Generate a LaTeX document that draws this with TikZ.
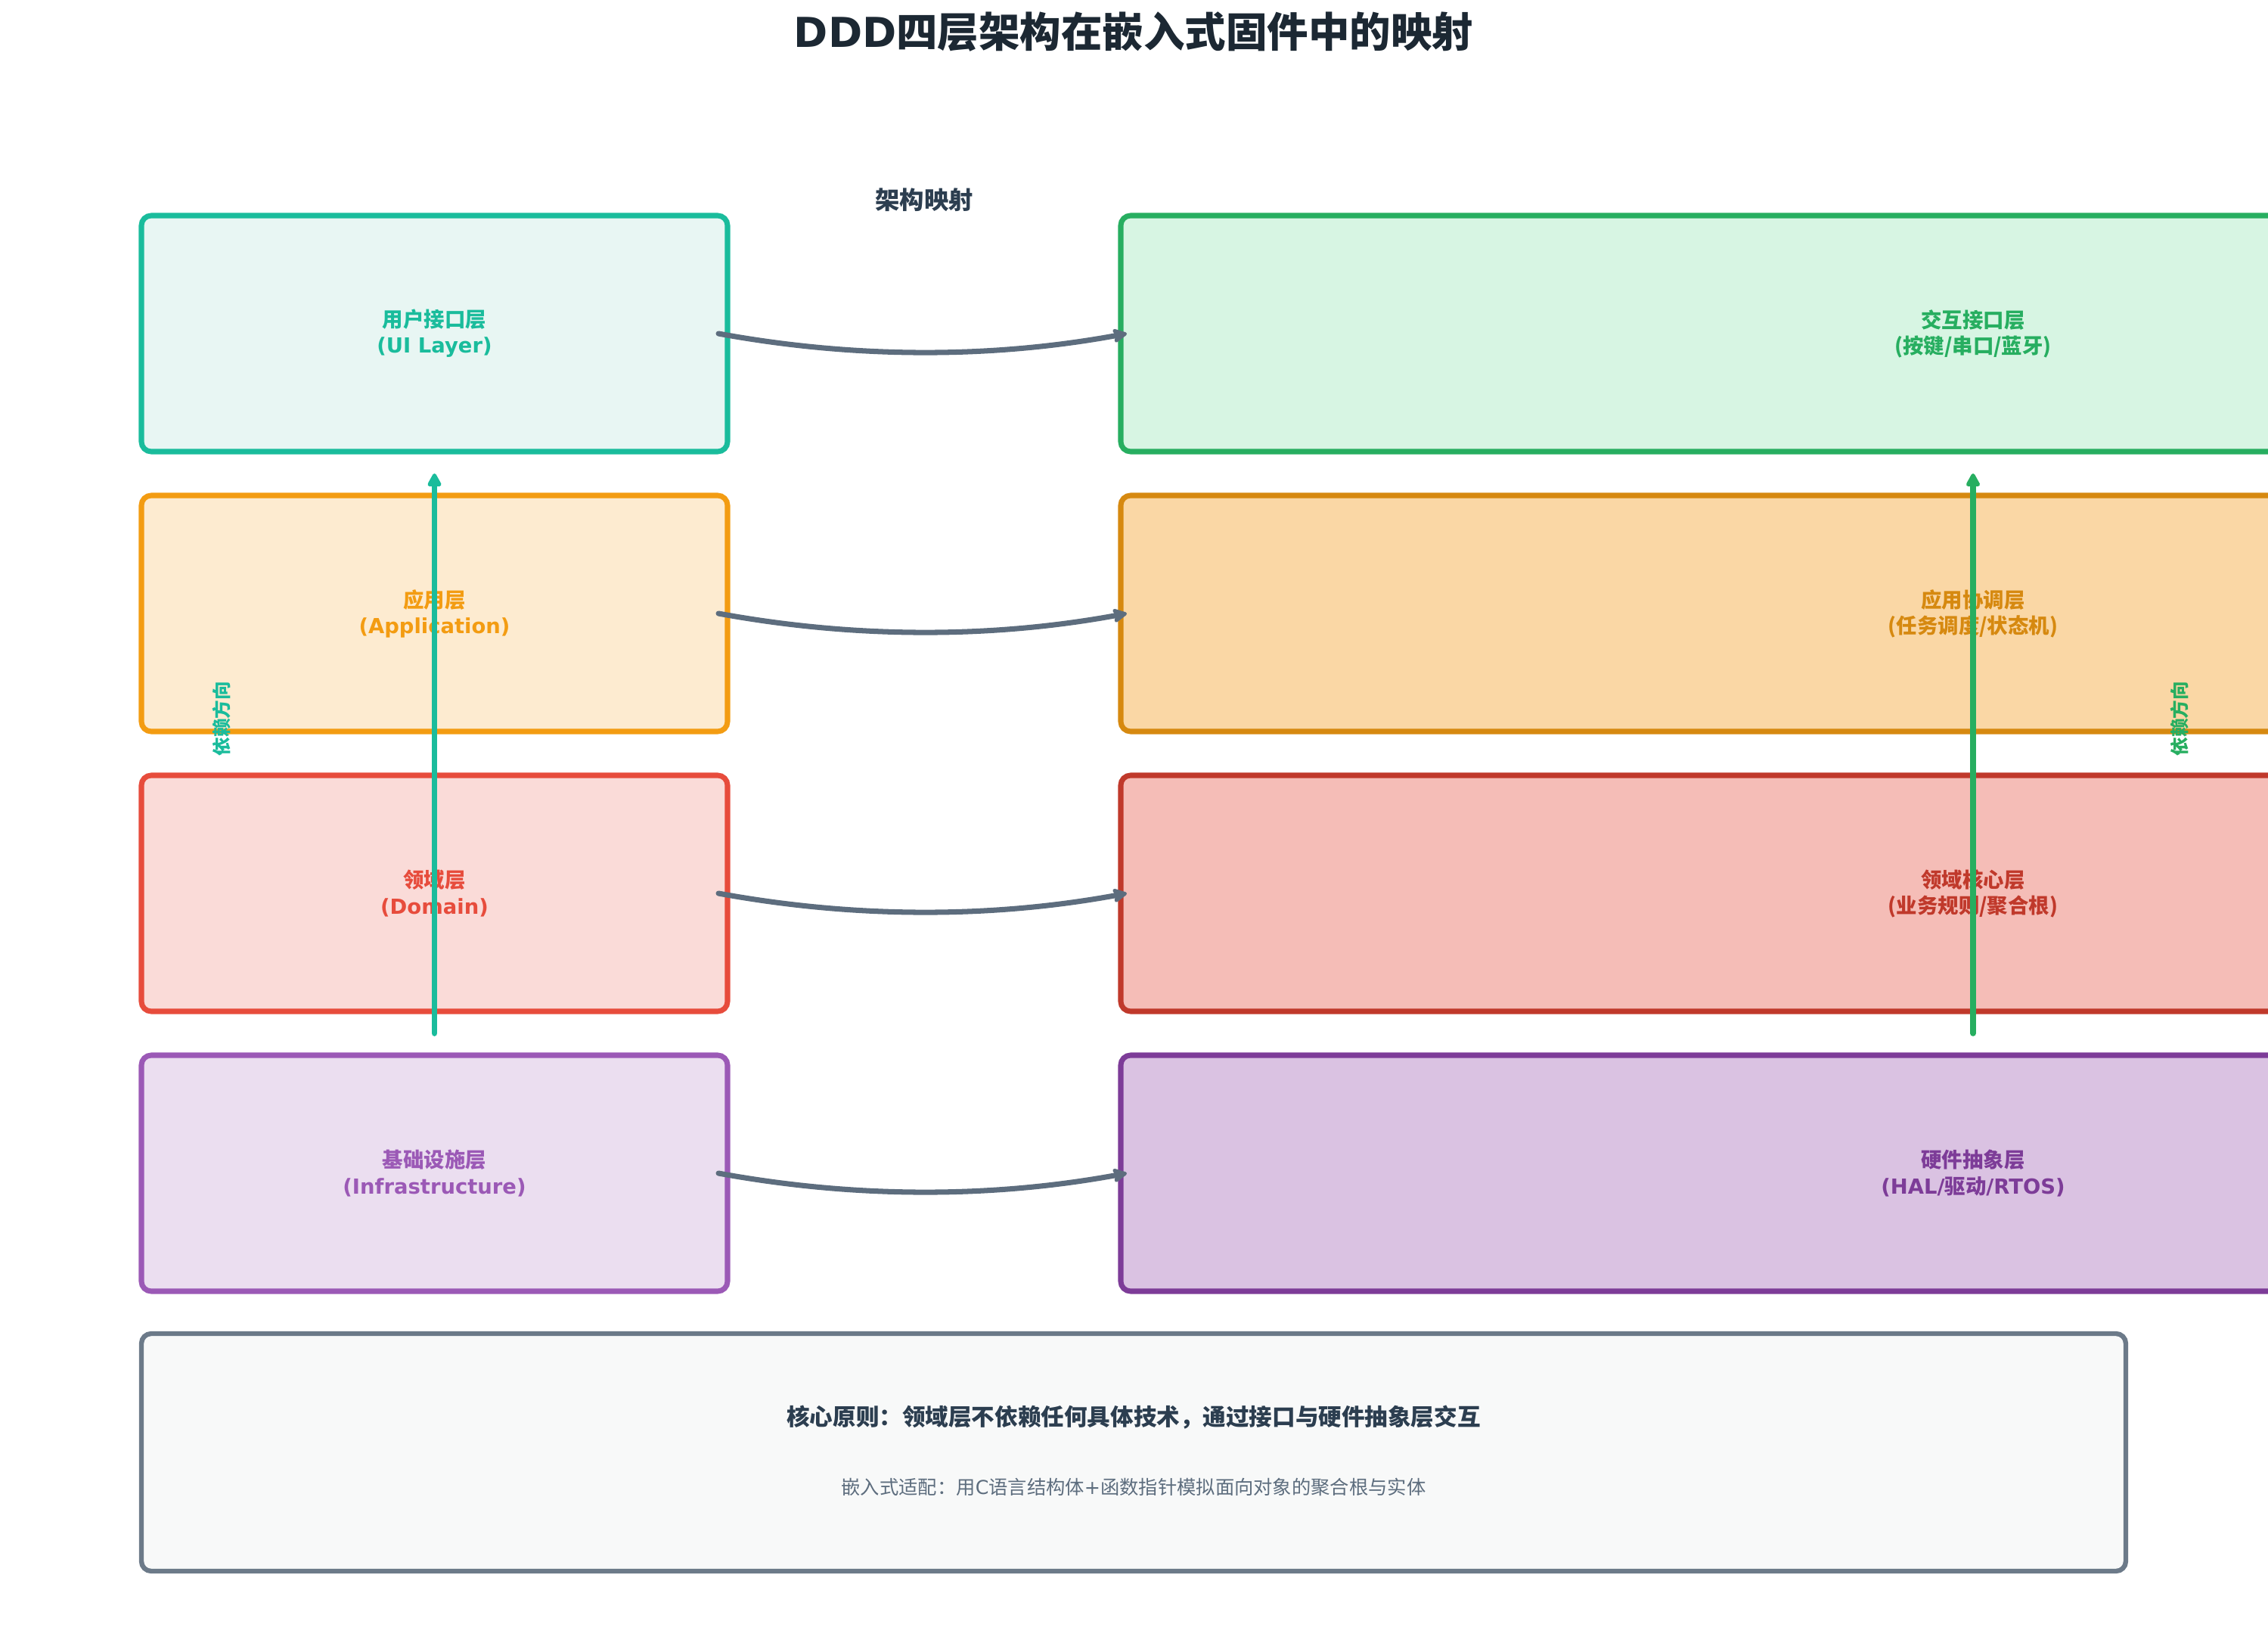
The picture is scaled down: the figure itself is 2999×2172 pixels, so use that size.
\documentclass[tikz,border=0pt]{standalone}
\usepackage{fontspec}
\usepackage{tikz}
\usetikzlibrary{arrows.meta,positioning,calc}
\setmainfont{DejaVu Sans}
\newfontfamily\cjk{Noto Sans CJK SC}
\definecolor{titleInk}{RGB}{28,40,51}
\definecolor{inkDark}{RGB}{44,62,80}
\definecolor{slateGray}{RGB}{93,109,126}
\definecolor{noteBorder}{RGB}{108,122,137}
\definecolor{noteFill}{RGB}{248,249,249}
\definecolor{uiTeal}{RGB}{26,188,156}
\definecolor{uiTealLight}{RGB}{232,246,243}
\definecolor{appOrange}{RGB}{243,156,18}
\definecolor{appOrangeLight}{RGB}{253,235,208}
\definecolor{domRed}{RGB}{231,76,60}
\definecolor{domRedLight}{RGB}{250,219,216}
\definecolor{infraPurple}{RGB}{155,89,182}
\definecolor{infraPurpleLight}{RGB}{235,222,240}
\definecolor{hwGreen}{RGB}{39,174,96}
\definecolor{hwGreenLight}{RGB}{215,245,227}
\definecolor{taskOrange}{RGB}{214,137,16}
\definecolor{taskOrangeLight}{RGB}{250,215,165}
\definecolor{coreRed}{RGB}{192,57,43}
\definecolor{coreRedLight}{RGB}{245,189,183}
\definecolor{halPurple}{RGB}{125,60,152}
\definecolor{halPurpleLight}{RGB}{218,194,226}
\tikzset{
  layer node/.style={rounded corners=1.3mm,line width=2pt,align=center,outer sep=0pt,inner sep=0pt,font=\bfseries\fontsize{7.8pt}{9.7pt}\selectfont,minimum height=31.2mm},
  layer left/.style={layer node,minimum width=77.5mm},
  layer right/.style={layer node,minimum width=225.4mm},
  note box/.style={rounded corners=1.3mm,line width=1.8pt,draw=noteBorder,fill=noteFill,minimum width=262.4mm,minimum height=31.4mm,outer sep=0pt},
  map arrow/.style={-{Stealth[length=2.2mm,width=2.2mm,inset=.4mm,round]},line width=2pt,draw=slateGray,line cap=round},
  dep arrow/.style={-{Triangle[round,length=2mm,width=2mm]},line width=2.2pt,line cap=round},
  dep label/.style={rotate=90,font=\cjk\bfseries\fontsize{7pt}{8pt}\selectfont}
}

\begin{document}
\begin{tikzpicture}[x=.1mm,y=-.1mm]
  \useasboundingbox (0,0) rectangle (2999,2172);
  \clip (0,0) rectangle (2999,2172);
  \node[font=\bfseries\fontsize{15.5pt}{18pt}\selectfont,text=titleInk] (title) at (1499,42) {DDD{\cjk 四层架构在嵌入式固件中的映射}};
  \node[font=\cjk\bfseries\fontsize{9.2pt}{11pt}\selectfont,text=inkDark] (maptitle) at (1222,264) {架构映射};
  % DDD layers
  \node[layer left,draw=uiTeal,fill=uiTealLight,text=uiTeal] (ui) at (574.5,441) {{\cjk 用户接口层}\\(UI Layer)};
  \node[layer left,draw=appOrange,fill=appOrangeLight,text=appOrange,below=5.8mm of ui] (app) {{\cjk 应用层}\\(Application)};
  \node[layer left,draw=domRed,fill=domRedLight,text=domRed,below=5.8mm of app] (dom) {{\cjk 领域层}\\(Domain)};
  \node[layer left,draw=infraPurple,fill=infraPurpleLight,text=infraPurple,below=5.8mm of dom] (infra) {{\cjk 基础设施层}\\(Infrastructure)};
  % firmware layers
  \node[layer right,draw=hwGreen,fill=hwGreenLight,text=hwGreen,right=52mm of ui] (hmi) {{\cjk 交互接口层}\\{\cjk (按键/串口/蓝牙)}};
  \node[layer right,draw=taskOrange,fill=taskOrangeLight,text=taskOrange,right=52mm of app] (sched) {{\cjk 应用协调层}\\{\cjk (任务调度/状态机)}};
  \node[layer right,draw=coreRed,fill=coreRedLight,text=coreRed,right=52mm of dom] (core) {{\cjk 领域核心层}\\{\cjk (业务规则/聚合根)}};
  \node[layer right,draw=halPurple,fill=halPurpleLight,text=halPurple,right=52mm of infra] (hal) {{\cjk 硬件抽象层}\\(HAL/{\cjk 驱动}/RTOS)};
  \foreach \a/\b in {ui/hmi,app/sched,dom/core,infra/hal}
    \draw[map arrow] ([xshift=-1.2mm]\a.east) .. controls +(180,33) and +(-180,33) .. ([xshift=.8mm]\b.west);
  % dependency direction
  \coordinate (depL0) at ($(dom.south)!.5!(infra.north)$);
  \coordinate (depL1) at ($(ui.south)!.5!(app.north)$);
  \coordinate (depR0) at ($(core.south)!.5!(hal.north)$);
  \coordinate (depR1) at ($(hmi.south)!.5!(sched.north)$);
  \draw[dep arrow,uiTeal] (depL0) -- (depL1);
  \draw[dep arrow,hwGreen] (depR0) -- (depR1);
  \node[dep label,text=uiTeal] (depLlabel) at (293,950) {依赖方向};
  \node[dep label,text=hwGreen] (depRlabel) at (2882,950) {依赖方向};
  % principle
  \node[note box] (note) at (1499,1920) {};
  \node[font=\cjk\bfseries\fontsize{8.7pt}{11pt}\selectfont,text=inkDark] (principle) at ([yshift=4.6mm]note.center) {核心原则：领域层不依赖任何具体技术，通过接口与硬件抽象层交互};
  \node[font=\fontsize{7.2pt}{9pt}\selectfont,text=slateGray] (adapt) at ([yshift=-4.6mm]note.center) {{\cjk 嵌入式适配：用}C{\cjk 语言结构体}+{\cjk 函数指针模拟面向对象的聚合根与实体}};
\end{tikzpicture}
\end{document}
